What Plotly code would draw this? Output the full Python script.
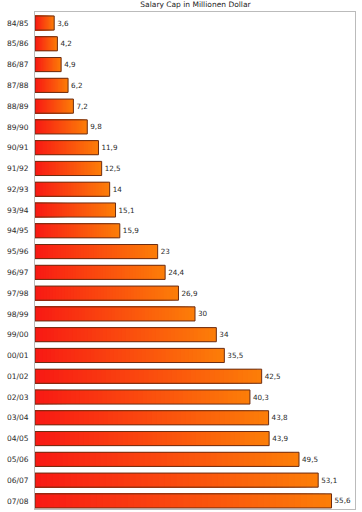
import plotly.graph_objects as go

seasons = ["84/85", "85/86", "86/87", "87/88", "88/89", "89/90", "90/91", "91/92",
           "92/93", "93/94", "94/95", "95/96", "96/97", "97/98", "98/99", "99/00",
           "00/01", "01/02", "02/03", "03/04", "04/05", "05/06", "06/07", "07/08"]
salary_cap = [3.6, 4.2, 4.9, 6.2, 7.2, 9.8, 11.9, 12.5, 14, 15.1, 15.9, 23,
              24.4, 26.9, 30, 34, 35.5, 42.5, 40.3, 43.8, 43.9, 49.5, 53.1, 55.6]
labels = [(f"{v:g}").replace(".", ",") for v in salary_cap]

left_rgb = (248, 26, 20)
right_rgb = (252, 125, 8)
N = 48

fig = go.Figure()
for k in range(N):
    t = k / (N - 1)
    r = round(right_rgb[0] + (left_rgb[0] - right_rgb[0]) * t)
    g = round(right_rgb[1] + (left_rgb[1] - right_rgb[1]) * t)
    b = round(right_rgb[2] + (left_rgb[2] - right_rgb[2]) * t)
    frac = (N - k) / N
    fig.add_trace(go.Bar(
        y=seasons, x=[v * frac for v in salary_cap], orientation="h",
        marker=dict(color=f"rgb({r},{g},{b})", line=dict(width=0)),
        hoverinfo="skip", showlegend=False,
    ))

fig.add_trace(go.Bar(
    y=seasons, x=salary_cap, orientation="h",
    marker=dict(color="rgba(0,0,0,0)", line=dict(color="#6b2c12", width=1)),
    text=labels, textposition="outside", cliponaxis=False,
    textfont=dict(size=7.2, color="#2a2a2a", family="DejaVu Sans"),
    showlegend=False,
))

fig.update_layout(
    width=362, height=512,
    margin=dict(l=35, r=7, t=12, b=3, autoexpand=False),
    barmode="overlay", bargap=0.32,
    plot_bgcolor="white", paper_bgcolor="white",
    font=dict(family="DejaVu Sans", size=8, color="#2a2a2a"),
    title=dict(text="Salary Cap in Millionen Dollar", x=0.54, xanchor="center",
               y=0.997, yanchor="top", font=dict(size=7.5, color="#222222")),
    xaxis=dict(range=[0, 60], showgrid=False, zeroline=False, showticklabels=False,
               ticks="", showline=True, linecolor="#bbbbbb", linewidth=1, mirror=True,
               automargin=False),
    yaxis=dict(type="category", range=[23.39, -0.53], showgrid=False, ticks="",
               showline=True, linecolor="#bbbbbb", linewidth=1, mirror=True,
               automargin=False,
               tickfont=dict(size=7.5, color="#2a2a2a"), ticklabelstandoff=4),
)

fig.write_html("out.html", config={"displayModeBar": False},
               post_script="document.body.style.margin='0';")
